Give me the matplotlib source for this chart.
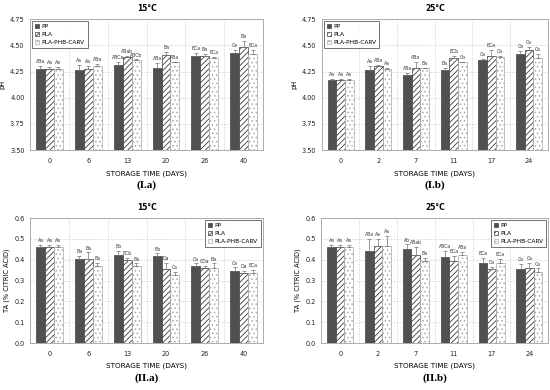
import numpy as np
import matplotlib
matplotlib.use("Agg")
import matplotlib.pyplot as plt

series = ["PP", "PLA", "PLA-PHB-CARV"]

# pH, 15 C
days_15 = ["0", "6", "13", "20", "26", "40"]
ph15_pp = [4.27, 4.26, 4.31, 4.28, 4.40, 4.43]
ph15_pla = [4.27, 4.27, 4.39, 4.41, 4.40, 4.48]
ph15_carv = [4.27, 4.30, 4.36, 4.34, 4.38, 4.42]
ph15_pp_err = [0.03, 0.05, 0.03, 0.05, 0.03, 0.03]
ph15_pla_err = [0.02, 0.03, 0.005, 0.03, 0.02, 0.06]
ph15_carv_err = [0.02, 0.02, 0.005, 0.005, 0.005, 0.04]
ph15_pp_lab = ["ABa", "Aa", "ABCa", "ABa", "BCa", "Ca"]
ph15_pla_lab = ["Aa", "Aa", "ABab", "Ba", "Ba", "Ba"]
ph15_carv_lab = ["Aa", "ABa", "ABCb", "ABa", "BCa", "BCa"]

# pH, 25 C
days_25 = ["0", "2", "7", "11", "17", "24"]
ph25_pp = [4.17, 4.26, 4.22, 4.26, 4.36, 4.42]
ph25_pla = [4.17, 4.30, 4.28, 4.38, 4.40, 4.46]
ph25_carv = [4.17, 4.27, 4.28, 4.34, 4.39, 4.38]
ph25_pp_err = [0.01, 0.04, 0.02, 0.02, 0.01, 0.03]
ph25_pla_err = [0.01, 0.01, 0.06, 0.02, 0.06, 0.02]
ph25_carv_err = [0.01, 0.01, 0.005, 0.005, 0.01, 0.04]
ph25_pp_lab = ["Aa", "Aa", "ABa", "Ba", "Ca", "Ca"]
ph25_pla_lab = ["Aa", "ABa", "ABa", "BCb", "BCa", "Ca"]
ph25_carv_lab = ["Aa", "Aa", "Ba", "Cb", "Ca", "Ca"]

# TA, 15 C
ta15_pp = [0.460, 0.405, 0.423, 0.420, 0.372, 0.348]
ta15_pla = [0.460, 0.405, 0.398, 0.355, 0.362, 0.338]
ta15_carv = [0.460, 0.368, 0.372, 0.328, 0.362, 0.337]
ta15_pp_err = [0.010, 0.015, 0.020, 0.010, 0.010, 0.015]
ta15_pla_err = [0.010, 0.030, 0.012, 0.030, 0.010, 0.008]
ta15_carv_err = [0.010, 0.018, 0.010, 0.012, 0.020, 0.015]
ta15_pp_lab = ["Aa", "Ba", "Bb", "Bb", "Ca", "Ca"]
ta15_pla_lab = ["Aa", "Ba", "BCb", "Da", "CDa", "Da"]
ta15_carv_lab = ["Aa", "Ba", "Ba", "Ca", "Ba", "BCa"]

# TA, 25 C
ta25_pp = [0.460, 0.440, 0.453, 0.413, 0.385, 0.355]
ta25_pla = [0.460, 0.468, 0.422, 0.392, 0.355, 0.358]
ta25_carv = [0.460, 0.467, 0.395, 0.423, 0.382, 0.343]
ta25_pp_err = [0.010, 0.060, 0.020, 0.028, 0.025, 0.025]
ta25_pla_err = [0.010, 0.030, 0.040, 0.025, 0.012, 0.025]
ta25_carv_err = [0.010, 0.045, 0.015, 0.015, 0.020, 0.015]
ta25_pp_lab = ["Aa", "ABa", "Ab", "ABCa", "BCa", "Ca"]
ta25_pla_lab = ["Aa", "Aa", "ABab", "BCa", "Ca", "Ca"]
ta25_carv_lab = ["Aa", "Aa", "Ba", "ABa", "BCa", "Ca"]

styles = [
    dict(facecolor="#505050", edgecolor="#404040", hatch=None),
    dict(facecolor="white", edgecolor="#3a3a3a", hatch="//////"),
    dict(facecolor="white", edgecolor="#a8a8a8", hatch="...."),
]

plt.rcParams["hatch.linewidth"] = 0.6
plt.rcParams["font.family"] = "DejaVu Sans"

fig = plt.figure(figsize=(5.5, 3.9), dpi=100)


def panel(rect, cats, vals, errs, labs, ylim, yticks, yfmt, ylabel, title, tag, loc):
    ax = fig.add_axes(rect)
    x = np.arange(len(cats))
    w = 0.23
    handles = []
    for i in range(3):
        pos = x + (i - 1) * w
        st = styles[i]
        b = ax.bar(pos, vals[i], w, bottom=0, facecolor=st["facecolor"],
                   edgecolor=st["edgecolor"], hatch=st["hatch"], linewidth=0.5,
                   label=series[i], zorder=3)
        handles.append(b)
        ax.errorbar(pos, vals[i], yerr=[np.zeros(len(cats)), errs[i]], fmt="none",
                    ecolor="#707070", elinewidth=0.5, capsize=1.2, capthick=0.5, zorder=4)
        span = ylim[1] - ylim[0]
        for p, v, e, t in zip(pos, vals[i], errs[i], labs[i]):
            ax.text(p, v + e + span * 0.015, t, ha="center", va="bottom",
                    fontsize=3.3, color="#333333")
    ax.set_xlim(-0.5, len(cats) - 0.5)
    ax.set_ylim(*ylim)
    ax.set_yticks(yticks)
    ax.set_yticklabels([yfmt.format(t) for t in yticks])
    ax.set_xticks(x)
    ax.set_xticklabels(cats)
    ax.set_xticks(np.arange(len(cats) - 1) + 0.5, minor=True)
    ax.grid(True, which="major", axis="y", linestyle=(0, (2, 2)), color="#c8c8c8", linewidth=0.5, zorder=0)
    ax.grid(True, which="minor", axis="x", linestyle=(0, (2, 2)), color="#c8c8c8", linewidth=0.5, zorder=0)
    ax.tick_params(which="both", length=0, labelsize=4.7, colors="#222222")
    ax.tick_params(axis="x", pad=6)
    ax.tick_params(axis="y", pad=4)
    for s in ax.spines.values():
        s.set_color("#a0a0a0")
        s.set_linewidth(0.6)
    ax.set_ylabel(ylabel, fontsize=4.8, labelpad=3)
    ax.set_xlabel("STORAGE TIME (DAYS)", fontsize=5.2, labelpad=4)
    ax.set_title(title, fontsize=5.5, fontweight="bold", pad=6)
    leg = ax.legend(handles=handles, loc=loc, fontsize=4.2, frameon=True, fancybox=False,
                    handlelength=0.7, handleheight=0.7, handletextpad=0.4,
                    borderpad=0.5, labelspacing=0.5, borderaxespad=0.4)
    leg.get_frame().set_edgecolor("#333333")
    leg.get_frame().set_linewidth(0.6)
    cx = rect[0] + rect[2] / 2
    fig.text(cx, rect[1] - 0.09, tag, ha="center", va="center", fontsize=8,
             fontweight="bold", family="Liberation Serif")
    return ax


ph_ticks = [3.50, 3.75, 4.00, 4.25, 4.50, 4.75]
ta_ticks = [0.0, 0.1, 0.2, 0.3, 0.4, 0.5, 0.6]

panel([0.0545, 0.615, 0.424, 0.336], days_15,
      [ph15_pp, ph15_pla, ph15_carv], [ph15_pp_err, ph15_pla_err, ph15_carv_err],
      [ph15_pp_lab, ph15_pla_lab, ph15_carv_lab],
      (3.5, 4.75), ph_ticks, "{:.2f}", "pH", "15°C", "(I.a)", "upper left")

panel([0.585, 0.615, 0.411, 0.336], days_25,
      [ph25_pp, ph25_pla, ph25_carv], [ph25_pp_err, ph25_pla_err, ph25_carv_err],
      [ph25_pp_lab, ph25_pla_lab, ph25_carv_lab],
      (3.5, 4.75), ph_ticks, "{:.2f}", "pH", "25°C", "(I.b)", "upper left")

panel([0.0545, 0.1205, 0.424, 0.3205], days_15,
      [ta15_pp, ta15_pla, ta15_carv], [ta15_pp_err, ta15_pla_err, ta15_carv_err],
      [ta15_pp_lab, ta15_pla_lab, ta15_carv_lab],
      (0.0, 0.6), ta_ticks, "{:.1f}", "TA (% CITRIC ACID)", "15°C", "(II.a)", "upper right")

panel([0.584, 0.1205, 0.413, 0.3205], days_25,
      [ta25_pp, ta25_pla, ta25_carv], [ta25_pp_err, ta25_pla_err, ta25_carv_err],
      [ta25_pp_lab, ta25_pla_lab, ta25_carv_lab],
      (0.0, 0.6), ta_ticks, "{:.1f}", "TA (% CITRIC ACID)", "25°C", "(II.b)", "upper right")

fig.savefig("out.png", dpi=100)
